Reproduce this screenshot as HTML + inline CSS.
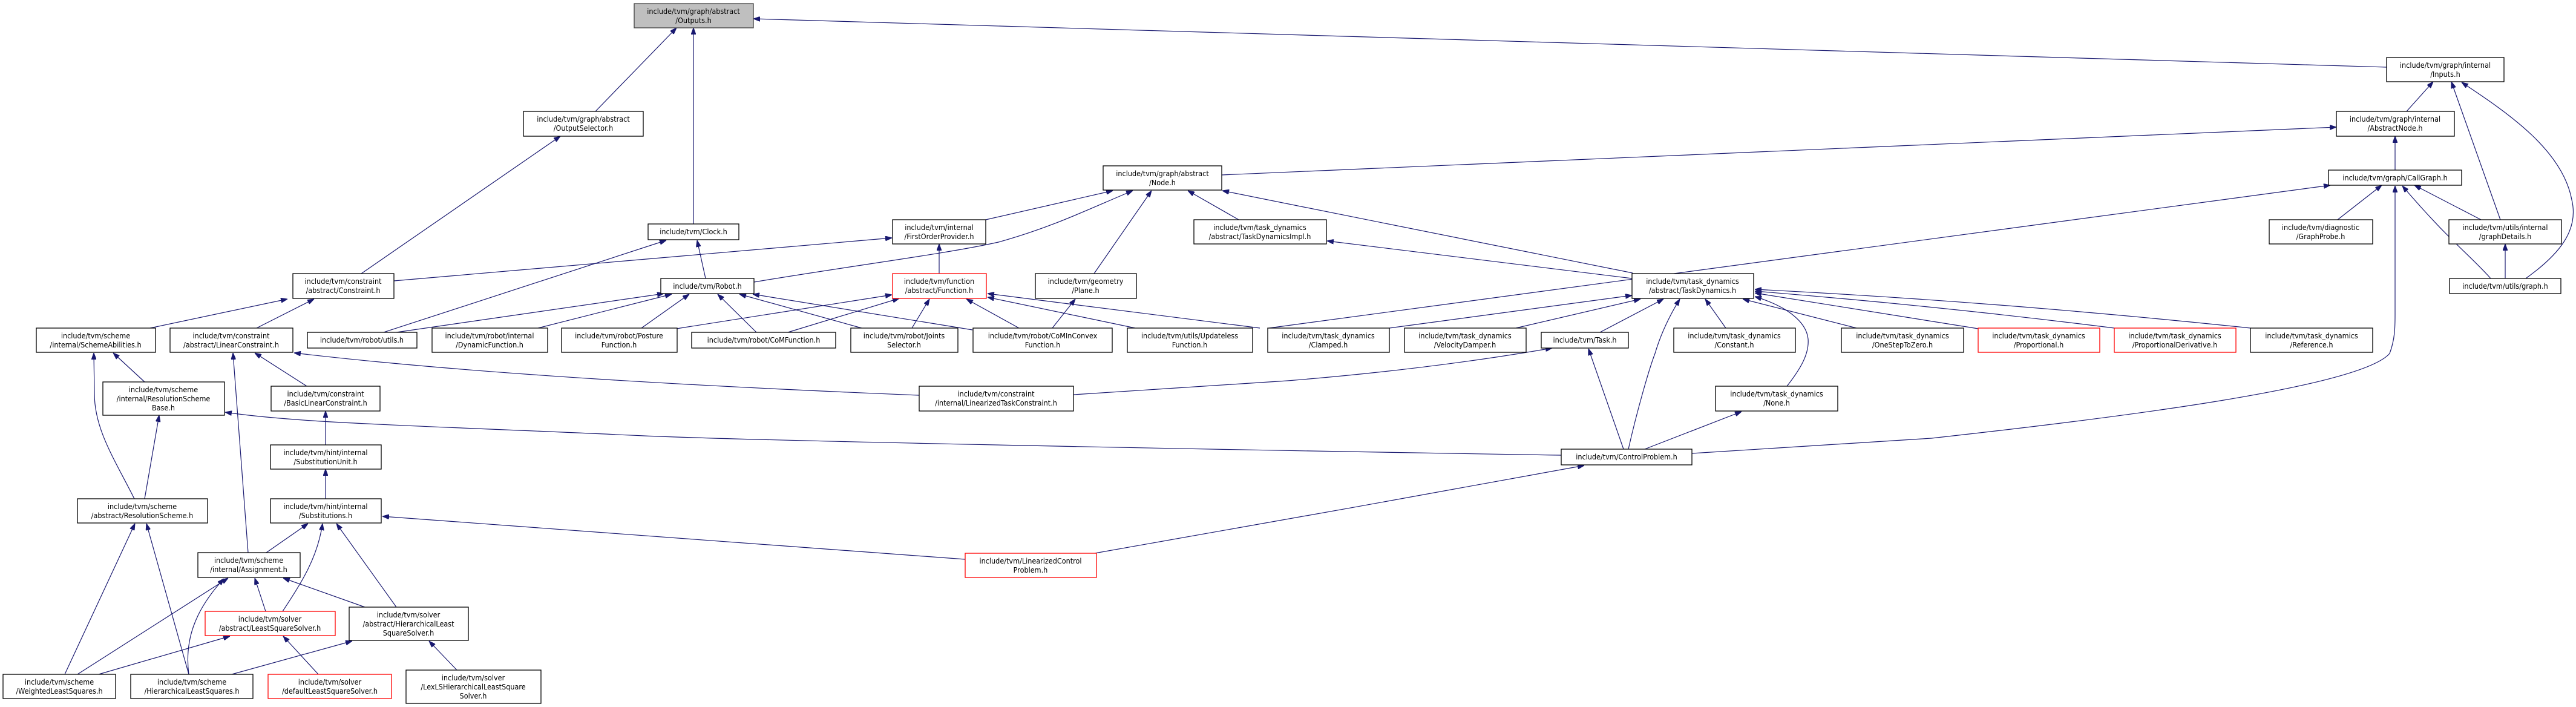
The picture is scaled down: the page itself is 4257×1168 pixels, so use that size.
<!DOCTYPE html>
<html><head><meta charset="utf-8"><style>
html,body{margin:0;padding:0;background:#fff;}
svg{display:block;}
.n rect{fill:#fff;stroke:#000;stroke-width:1.3;}
.n.r rect{stroke:#ff0000;}
.n.g rect{fill:#bfbfbf;stroke:#404040;}
text{font-family:"DejaVu Sans Condensed","DejaVu Sans","Liberation Sans",sans-serif;font-size:12.5px;fill:#000;text-anchor:middle;}
.e path{fill:none;stroke:#191970;stroke-width:1.2;marker-end:url(#a);}
</style></head><body>
<svg width="4257" height="1168" viewBox="0 0 4257 1168" xmlns="http://www.w3.org/2000/svg">
<defs><marker id="a" markerUnits="userSpaceOnUse" markerWidth="11" markerHeight="8" refX="11" refY="4" orient="auto"><path d="M0,0 L11,4 L0,8 z" fill="#191970" stroke="#191970"/></marker></defs>
<g class="e">
<path d="M984,184 L1118,46"/>
<path d="M1146,370 L1146,46"/>
<path d="M3944,111 L1245,31"/>
<path d="M597,452 L926,225"/>
<path d="M3977,184 L4021,135"/>
<path d="M4132,363 L4051,135"/>
<path d="M4174,460 C4230,420 4262,380 4250,330 C4235,250 4150,190 4068,136"/>
<path d="M4140,460 L4140,403"/>
<path d="M3958,281 L3958,225"/>
<path d="M2019,289 L3861,210"/>
<path d="M3863,363 L3936,306"/>
<path d="M4100,363 L3990,306"/>
<path d="M4116,460 C4080,420 4045,395 3970,307"/>
<path d="M2796,749 L3192,724 C3500,690 3900,640 3949,584 C3958,560 3958,540 3958,520 L3958,307"/>
<path d="M2097,542 L3851,306"/>
<path d="M1629,363 L1839,315"/>
<path d="M1246,466 C1400,440 1560,420 1650,400 C1740,375 1800,345 1872,315"/>
<path d="M1808,452 L1903,315"/>
<path d="M2047,363 L1963,315"/>
<path d="M2698,451 L2020,315"/>
<path d="M2697,460 L2193,398"/>
<path d="M651,464 L1474,393"/>
<path d="M1552,452 L1552,403"/>
<path d="M634,549 L1101,397"/>
<path d="M1166,460 L1152,397"/>
<path d="M655,549 L1097,485"/>
<path d="M889,542 L1110,486"/>
<path d="M1060,542 L1139,486"/>
<path d="M1250,549 L1186,486"/>
<path d="M1424,542 L1222,486"/>
<path d="M1607,545 L1244,486"/>
<path d="M1118,543 L1474,487"/>
<path d="M1302,549 L1486,493"/>
<path d="M1507,542 L1536,494"/>
<path d="M1684,542 L1597,494"/>
<path d="M1876,542 L1632,491"/>
<path d="M2082,542 L1632,485"/>
<path d="M1739,542 L1777,494"/>
<path d="M2296,542 L2697,488"/>
<path d="M2505,542 L2711,494"/>
<path d="M2644,549 L2749,494"/>
<path d="M2691,742 C2705,680 2725,610 2735,584 C2745,550 2760,520 2776,494"/>
<path d="M2852,542 L2818,494"/>
<path d="M3068,542 L2880,494"/>
<path d="M2953,638 C2975,610 2990,585 2988,560 C2985,530 2950,505 2900,490"/>
<path d="M3269,543 L2900,484"/>
<path d="M3494,542 Q3200,505 2900,481"/>
<path d="M3719,542 Q3300,498 2900,478"/>
<path d="M1774,652 L2128,629 C2300,615 2450,595 2565,575"/>
<path d="M1519,653 C1200,640 800,620 486,583"/>
<path d="M2683,742 L2625,576"/>
<path d="M2718,742 L2878,680"/>
<path d="M2580,752 C2200,746 1300,730 1064,720 C700,703 500,700 372,681"/>
<path d="M1595,924 L632,853"/>
<path d="M1809,914 C2000,880 2400,810 2618,769"/>
<path d="M248,542 L475,494"/>
<path d="M424,542 L519,494"/>
<path d="M239,631 L187,583"/>
<path d="M222,824 C190,760 156,710 156,650 L155,583"/>
<path d="M410,913 L385,583"/>
<path d="M507,638 L421,583"/>
<path d="M538,735 L538,679"/>
<path d="M538,824 L538,775"/>
<path d="M239,824 L263,686"/>
<path d="M107,1114 L223,865"/>
<path d="M312,1114 L242,865"/>
<path d="M440,913 L509,865"/>
<path d="M467,1010 C500,960 525,920 533,865"/>
<path d="M655,1003 L556,865"/>
<path d="M128,1114 L377,955"/>
<path d="M312,1114 C305,1060 320,1010 370,956"/>
<path d="M439,1010 L421,955"/>
<path d="M603,1003 L468,955"/>
<path d="M163,1114 L380,1051"/>
<path d="M526,1114 L468,1051"/>
<path d="M383,1114 L582,1059"/>
<path d="M755,1107 L709,1059"/>
</g>

<g class="n g"><rect x="1048" y="6" width="197" height="40"/><text x="1146" y="23">include/tvm/graph/abstract</text><text x="1146" y="38">/Outputs.h</text></g>
<g class="n"><rect x="865" y="184" width="198" height="41"/><text x="964" y="201">include/tvm/graph/abstract</text><text x="964" y="216">/OutputSelector.h</text></g>
<g class="n"><rect x="484" y="452" width="167" height="41"/><text x="567" y="469">include/tvm/constraint</text><text x="567" y="484">/abstract/Constraint.h</text></g>
<g class="n"><rect x="60" y="542" width="197" height="40"/><text x="158" y="559">include/tvm/scheme</text><text x="158" y="574">/internal/SchemeAbilities.h</text></g>
<g class="n"><rect x="281" y="542" width="203" height="40"/><text x="382" y="559">include/tvm/constraint</text><text x="382" y="574">/abstract/LinearConstraint.h</text></g>
<g class="n"><rect x="508" y="549" width="181" height="26"/><text x="598" y="566">include/tvm/robot/utils.h</text></g>
<g class="n"><rect x="714" y="542" width="191" height="40"/><text x="809" y="559">include/tvm/robot/internal</text><text x="809" y="574">/DynamicFunction.h</text></g>
<g class="n"><rect x="928" y="542" width="191" height="40"/><text x="1023" y="559">include/tvm/robot/Posture</text><text x="1023" y="574">Function.h</text></g>
<g class="n"><rect x="170" y="631" width="201" height="55"/><text x="270" y="648">include/tvm/scheme</text><text x="270" y="663">/internal/ResolutionScheme</text><text x="270" y="678">Base.h</text></g>
<g class="n"><rect x="448" y="638" width="180" height="41"/><text x="538" y="655">include/tvm/constraint</text><text x="538" y="670">/BasicLinearConstraint.h</text></g>
<g class="n"><rect x="447" y="735" width="183" height="40"/><text x="538" y="752">include/tvm/hint/internal</text><text x="538" y="767">/SubstitutionUnit.h</text></g>
<g class="n"><rect x="128" y="824" width="215" height="40"/><text x="235" y="841">include/tvm/scheme</text><text x="235" y="856">/abstract/ResolutionScheme.h</text></g>
<g class="n"><rect x="447" y="824" width="183" height="40"/><text x="538" y="841">include/tvm/hint/internal</text><text x="538" y="856">/Substitutions.h</text></g>
<g class="n"><rect x="327" y="913" width="169" height="41"/><text x="411" y="930">include/tvm/scheme</text><text x="411" y="945">/internal/Assignment.h</text></g>
<g class="n r"><rect x="339" y="1010" width="215" height="40"/><text x="446" y="1027">include/tvm/solver</text><text x="446" y="1042">/abstract/LeastSquareSolver.h</text></g>
<g class="n"><rect x="577" y="1003" width="197" height="55"/><text x="675" y="1020">include/tvm/solver</text><text x="675" y="1035">/abstract/HierarchicalLeast</text><text x="675" y="1050">SquareSolver.h</text></g>
<g class="n"><rect x="5" y="1114" width="186" height="40"/><text x="98" y="1131">include/tvm/scheme</text><text x="98" y="1146">/WeightedLeastSquares.h</text></g>
<g class="n"><rect x="216" y="1114" width="202" height="40"/><text x="317" y="1131">include/tvm/scheme</text><text x="317" y="1146">/HierarchicalLeastSquares.h</text></g>
<g class="n r"><rect x="443" y="1114" width="204" height="40"/><text x="545" y="1131">include/tvm/solver</text><text x="545" y="1146">/defaultLeastSquareSolver.h</text></g>
<g class="n"><rect x="671" y="1107" width="223" height="55"/><text x="782" y="1124">include/tvm/solver</text><text x="782" y="1139">/LexLSHierarchicalLeastSquare</text><text x="782" y="1154">Solver.h</text></g>
<g class="n"><rect x="1071" y="370" width="150" height="26"/><text x="1146" y="387">include/tvm/Clock.h</text></g>
<g class="n"><rect x="1475" y="363" width="154" height="40"/><text x="1552" y="380">include/tvm/internal</text><text x="1552" y="395">/FirstOrderProvider.h</text></g>
<g class="n"><rect x="1823" y="274" width="196" height="40"/><text x="1921" y="291">include/tvm/graph/abstract</text><text x="1921" y="306">/Node.h</text></g>
<g class="n"><rect x="1973" y="363" width="219" height="40"/><text x="2082" y="380">include/tvm/task_dynamics</text><text x="2082" y="395">/abstract/TaskDynamicsImpl.h</text></g>
<g class="n"><rect x="1092" y="460" width="154" height="25"/><text x="1169" y="477">include/tvm/Robot.h</text></g>
<g class="n r"><rect x="1475" y="452" width="155" height="41"/><text x="1552" y="469">include/tvm/function</text><text x="1552" y="484">/abstract/Function.h</text></g>
<g class="n"><rect x="1711" y="452" width="167" height="41"/><text x="1794" y="469">include/tvm/geometry</text><text x="1794" y="484">/Plane.h</text></g>
<g class="n"><rect x="1143" y="549" width="238" height="26"/><text x="1262" y="566">include/tvm/robot/CoMFunction.h</text></g>
<g class="n"><rect x="1406" y="542" width="177" height="40"/><text x="1494" y="559">include/tvm/robot/Joints</text><text x="1494" y="574">Selector.h</text></g>
<g class="n"><rect x="1608" y="542" width="230" height="40"/><text x="1723" y="559">include/tvm/robot/CoMInConvex</text><text x="1723" y="574">Function.h</text></g>
<g class="n"><rect x="1863" y="542" width="207" height="40"/><text x="1966" y="559">include/tvm/utils/Updateless</text><text x="1966" y="574">Function.h</text></g>
<g class="n"><rect x="2095" y="542" width="201" height="40"/><text x="2195" y="559">include/tvm/task_dynamics</text><text x="2195" y="574">/Clamped.h</text></g>
<g class="n"><rect x="2321" y="542" width="201" height="40"/><text x="2421" y="559">include/tvm/task_dynamics</text><text x="2421" y="574">/VelocityDamper.h</text></g>
<g class="n"><rect x="2547" y="549" width="144" height="26"/><text x="2619" y="566">include/tvm/Task.h</text></g>
<g class="n"><rect x="2697" y="452" width="201" height="41"/><text x="2797" y="469">include/tvm/task_dynamics</text><text x="2797" y="484">/abstract/TaskDynamics.h</text></g>
<g class="n"><rect x="2766" y="542" width="201" height="40"/><text x="2866" y="559">include/tvm/task_dynamics</text><text x="2866" y="574">/Constant.h</text></g>
<g class="n"><rect x="3043" y="542" width="202" height="40"/><text x="3144" y="559">include/tvm/task_dynamics</text><text x="3144" y="574">/OneStepToZero.h</text></g>
<g class="n"><rect x="2835" y="638" width="202" height="41"/><text x="2936" y="655">include/tvm/task_dynamics</text><text x="2936" y="670">/None.h</text></g>
<g class="n"><rect x="2580" y="742" width="216" height="26"/><text x="2688" y="759">include/tvm/ControlProblem.h</text></g>
<g class="n"><rect x="1519" y="638" width="255" height="41"/><text x="1646" y="655">include/tvm/constraint</text><text x="1646" y="670">/internal/LinearizedTaskConstraint.h</text></g>
<g class="n r"><rect x="1595" y="914" width="217" height="40"/><text x="1703" y="931">include/tvm/LinearizedControl</text><text x="1703" y="946">Problem.h</text></g>
<g class="n"><rect x="3944" y="95" width="194" height="40"/><text x="4041" y="112">include/tvm/graph/internal</text><text x="4041" y="127">/Inputs.h</text></g>
<g class="n"><rect x="3861" y="184" width="195" height="41"/><text x="3958" y="201">include/tvm/graph/internal</text><text x="3958" y="216">/AbstractNode.h</text></g>
<g class="n"><rect x="3848" y="281" width="220" height="25"/><text x="3958" y="298">include/tvm/graph/CallGraph.h</text></g>
<g class="n"><rect x="3750" y="363" width="171" height="40"/><text x="3835" y="380">include/tvm/diagnostic</text><text x="3835" y="395">/GraphProbe.h</text></g>
<g class="n"><rect x="4047" y="363" width="186" height="40"/><text x="4140" y="380">include/tvm/utils/internal</text><text x="4140" y="395">/graphDetails.h</text></g>
<g class="n"><rect x="4048" y="460" width="184" height="25"/><text x="4140" y="477">include/tvm/utils/graph.h</text></g>
<g class="n r"><rect x="3269" y="542" width="201" height="40"/><text x="3369" y="559">include/tvm/task_dynamics</text><text x="3369" y="574">/Proportional.h</text></g>
<g class="n r"><rect x="3494" y="542" width="201" height="40"/><text x="3594" y="559">include/tvm/task_dynamics</text><text x="3594" y="574">/ProportionalDerivative.h</text></g>
<g class="n"><rect x="3719" y="542" width="202" height="40"/><text x="3820" y="559">include/tvm/task_dynamics</text><text x="3820" y="574">/Reference.h</text></g>
</svg>
</body></html>
